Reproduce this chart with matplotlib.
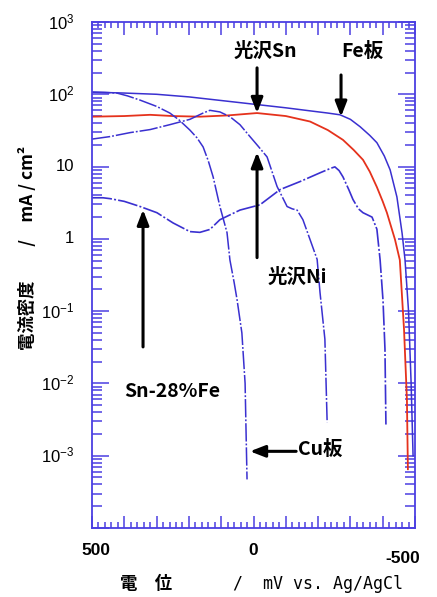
import matplotlib
matplotlib.use("Agg")
import matplotlib.pyplot as plt
from matplotlib.ticker import MultipleLocator, LogLocator, NullFormatter
import matplotlib.transforms as mtransforms

# ---------------- data (potential mV vs Ag/AgCl, current density mA/cm2) -------------
fe_x = [500, 400, 300, 200, 100, 0, -100, -175, -230, -268, -300, -330, -360, -382, -405, -423,
        -444, -460, -469, -480, -488, -494]
fe_y = [107, 104, 100, 92, 82, 73, 65, 59, 55, 52, 45, 35.6, 27, 21.4, 14, 9.0,
        3.8, 1.2, 0.52, 0.1, 0.01, 0.001]

sn_x = [500, 400, 320, 250, 166, 80, -11, -100, -175, -230, -277, -310, -339, -360, -382, -400,
        -413, -438, -453, -466, -475, -478]
sn_y = [49, 50, 52, 50, 49, 51, 55, 50, 42, 32, 23.4, 17, 12.4, 8.5, 5.2, 3.3,
        2.3, 0.98, 0.51, 0.056, 0.006, 0.00065]

snfe_x = [500, 466, 444, 400, 351, 299, 249, 197, 166, 135, 104, 42, -20, -82, -144, -206, -240, -252,
          -265, -277, -295, -308, -325, -339, -367, -382, -392, -401, -407, -410]
snfe_y = [3.7, 3.7, 3.6, 3.3, 2.8, 2.3, 1.66, 1.26, 1.23, 1.35, 1.84, 2.5, 2.96, 4.8, 6.2, 8.2, 9.5, 9.9,
          8.8, 7.2, 4.8, 3.5, 2.6, 2.3, 2.0, 1.36, 0.51, 0.14, 0.03, 0.0027]

ni_x = [500, 444, 382, 320, 259, 197, 156, 135, 104, 73, 42, 11, -15, -42, -73, -104, -120, -135,
        -153, -175, -197, -206, -221, -228]
ni_y = [24, 26, 29.5, 32.5, 38, 45, 55, 60, 57, 49, 38, 26, 19, 13.6, 5.3, 2.8, 2.6, 2.5,
        1.84, 0.98, 0.52, 0.18, 0.041, 0.0029]

cu_x = [500, 460, 423, 390, 351, 300, 259, 230, 197, 175, 156, 140, 125, 104, 82, 73, 60, 51, 36,
        26, 23, 20]
cu_y = [107, 106, 104, 95, 83, 68, 55, 44, 32, 25, 18.7, 12, 7.2, 2.8, 1.22, 0.51, 0.25, 0.145, 0.05,
        0.010, 0.0021, 0.00047]

xtick_vals = [500, 0, -500]
xtick_text = ["500", "0", "-500"]
ytick_vals = [1e3, 1e2, 1e1, 1e0, 1e-1, 1e-2, 1e-3]
ytick_text = [r"$10^{3}$", r"$10^{2}$", "10", "1", r"$10^{-1}$", r"$10^{-2}$", r"$10^{-3}$"]

# ---------------- style --------------------------------------------------------------
BLUE = "#3a30d0"
FRAME = "#4b3fe2"
RED = "#e5321c"
CJK = ["Noto Sans CJK JP", "DejaVu Sans"]

plt.rcParams["mathtext.fontset"] = "custom"
plt.rcParams["mathtext.rm"] = "Liberation Sans"
plt.rcParams["mathtext.it"] = "Liberation Sans"

W, H = 437, 597
fig = plt.figure(figsize=(W / 100, H / 100), dpi=100, facecolor="white")
ax = fig.add_axes([92 / W, 1 - 528 / H, (415 - 92) / W, (528 - 22) / H])

ax.set_yscale("log")
ax.set_xlim(500, -500)
ax.set_ylim(1e-4, 1e3)

dd = (12, 1.3, 1.2, 1.3)
ax.plot(fe_x, fe_y, color=BLUE, lw=1.1)
ax.plot(sn_x, sn_y, color=RED, lw=1.3)
ax.plot(snfe_x, snfe_y, color=BLUE, lw=1.2, dashes=dd)
ax.plot(ni_x, ni_y, color=BLUE, lw=1.1, dashes=dd)
ax.plot(cu_x, cu_y, color=BLUE, lw=1.1, dashes=dd)

# frame & ticks
for s in ax.spines.values():
    s.set_color(FRAME)
    s.set_linewidth(1.3)
ax.xaxis.set_major_locator(MultipleLocator(100))
ax.xaxis.set_minor_locator(MultipleLocator(20))
ax.xaxis.set_major_formatter(NullFormatter())
ax.yaxis.set_major_locator(LogLocator(base=10, numticks=20))
ax.yaxis.set_minor_locator(LogLocator(base=10, subs=range(2, 10), numticks=20))
ax.yaxis.set_minor_formatter(NullFormatter())
ax.yaxis.set_major_formatter(NullFormatter())
ax.tick_params(which="both", direction="in", top=True, right=True, color=FRAME, width=1.1)
ax.tick_params(which="major", axis="x", length=9)
ax.tick_params(which="minor", axis="x", length=4)
ax.tick_params(which="major", axis="y", length=12)
ax.tick_params(which="minor", axis="y", length=7)

# tick labels as text
bx = mtransforms.blended_transform_factory(ax.transData, ax.transAxes)
xoff = {500: 4, 0: 0, -500: -12}
for v, t in zip(xtick_vals, xtick_text):
    dy = -0.045 if v != -500 else -0.06
    tr = mtransforms.offset_copy(bx, fig=fig, x=xoff[v], y=0, units="dots")
    ax.text(v, dy, t, transform=tr, ha="center", va="center", fontsize=12.5,
            fontweight="bold", family="Liberation Sans")
by = mtransforms.blended_transform_factory(ax.transAxes, ax.transData)
for v, t in zip(ytick_vals, ytick_text):
    ax.text(-0.055, v, t, transform=by, ha="right", va="center", fontsize=12,
            family="Liberation Sans")

# axis labels
fig.text(28 / W, 1 - 248 / H, "電流密度　　/　mA / cm²", rotation=90, ha="center", va="center",
         fontsize=12.5, family=CJK, fontweight="bold")
fig.text(120 / W, 1 - 584 / H, "電　位", ha="left", va="center", fontsize=12.5,
         family=CJK, fontweight="bold")
fig.text(233 / W, 1 - 584 / H, "/  mV vs. Ag/AgCl", ha="left", va="center", fontsize=12,
         family="DejaVu Sans Mono")

# annotations
ap = dict(arrowstyle="-|>,head_length=0.9,head_width=0.35", color="black", lw=2.2,
          shrinkA=0, shrinkB=0)
tk = dict(fontsize=14, fontweight="bold", family=CJK, ha="center", va="center")
ax.text(-36, 398, "光沢Sn", **tk)
ax.annotate("", xy=(-11, 55), xytext=(-11, 232), arrowprops=ap)
ax.text(-336, 398, "Fe板", **tk)
ax.annotate("", xy=(-271, 49), xytext=(-271, 185), arrowprops=ap)
ax.text(-135, 0.29, "光沢Ni", **tk)
ax.annotate("", xy=(-11, 15.8), xytext=(-11, 0.55), arrowprops=ap)
ax.text(252, 0.0078, "Sn-28%Fe", **tk)
ax.annotate("", xy=(342, 2.53), xytext=(342, 0.032), arrowprops=ap)
ax.text(-138, 0.00123, "Cu板", **{**tk, "ha": "left"})
ax.annotate("", xy=(11, 0.00115), xytext=(-132, 0.00115), arrowprops=ap)

fig.savefig("out.png", dpi=100, facecolor="white")
